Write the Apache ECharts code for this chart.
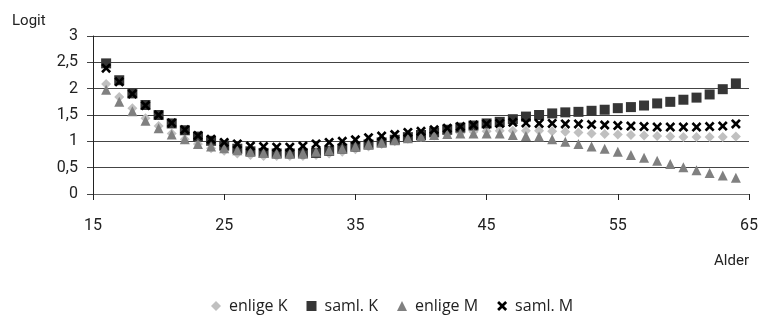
<!DOCTYPE html>
<html>
<head>
<meta charset="utf-8">
<script src="https://cdn.jsdelivr.net/npm/echarts@6/dist/echarts.min.js"></script>
<style>
html,body{margin:0;padding:0;background:#fff;}
#c{width:761px;height:320px;}
</style>
</head>
<body>
<div id="c"></div>
<script>
var ages = [16,17,18,19,20,21,22,23,24,25,26,27,28,29,30,31,32,33,34,35,36,37,38,39,40,41,42,43,44,45,46,47,48,49,50,51,52,53,54,55,56,57,58,59,60,61,62,63,64];
var enligeK = [2.09,1.84,1.63,1.44,1.29,1.15,1.04,0.95,0.87,0.82,0.77,0.74,0.72,0.72,0.72,0.72,0.74,0.77,0.80,0.85,0.90,0.95,1.00,1.05,1.08,1.11,1.14,1.16,1.18,1.19,1.20,1.20,1.20,1.20,1.19,1.18,1.17,1.15,1.14,1.13,1.12,1.11,1.10,1.09,1.08,1.08,1.08,1.08,1.09];
var samlK = [2.48,2.16,1.91,1.69,1.50,1.34,1.21,1.09,1.01,0.92,0.86,0.81,0.78,0.77,0.77,0.77,0.78,0.82,0.86,0.90,0.94,0.98,1.03,1.08,1.12,1.17,1.22,1.26,1.30,1.34,1.37,1.42,1.47,1.50,1.53,1.55,1.56,1.58,1.60,1.63,1.65,1.68,1.72,1.75,1.79,1.83,1.89,1.99,2.10];
var enligeM = [1.98,1.75,1.57,1.39,1.25,1.13,1.04,0.95,0.90,0.87,0.83,0.80,0.78,0.77,0.77,0.78,0.80,0.83,0.86,0.90,0.94,0.98,1.02,1.06,1.09,1.12,1.14,1.15,1.15,1.15,1.15,1.12,1.10,1.09,1.04,0.99,0.95,0.90,0.86,0.80,0.74,0.69,0.63,0.57,0.51,0.45,0.40,0.35,0.31];
var samlM = [2.39,2.13,1.90,1.68,1.50,1.35,1.22,1.11,1.04,0.98,0.95,0.91,0.90,0.89,0.89,0.91,0.95,0.98,1.00,1.03,1.07,1.10,1.13,1.17,1.19,1.22,1.25,1.28,1.31,1.33,1.34,1.36,1.35,1.34,1.34,1.33,1.33,1.32,1.31,1.30,1.29,1.28,1.27,1.27,1.27,1.27,1.28,1.29,1.33];
var seriesNames = ['enlige K','saml. K','enlige M','saml. M'];
var xTicks = [15,25,35,45,55,65];
var yTicks = [0,0.5,1,1.5,2,2.5,3];

var crossPath = 'path://M0,1.9 L1.9,0 L5,3.1 L8.1,0 L10,1.9 L6.9,5 L10,8.1 L8.1,10 L5,6.9 L1.9,10 L0,8.1 L3.1,5 Z';
function pairs(arr){ return ages.map(function(a,i){ return [a, arr[i]]; }); }

var chart = echarts.init(document.getElementById('c'), null, {renderer:'canvas'});
var font = 'Roboto, "Noto Sans", sans-serif';
chart.setOption({
  animation:false,
  backgroundColor:'#fff',
  grid:{left:93, right:12, top:36, bottom:126, containLabel:false},
  title:{text:'Logit', left:7, top:9, textStyle:{fontFamily:font, fontSize:15, fontWeight:'normal', color:'#222'}},
  legend:{
    bottom:1, left:206, itemWidth:10, itemHeight:10, itemGap:19,
    textStyle:{fontFamily:'"Open Sans", sans-serif', fontSize:16, color:'#222', padding:[0,0,0,3]},
    data:[
      {name:seriesNames[0], icon:'diamond'},
      {name:seriesNames[1], icon:'rect'},
      {name:seriesNames[2], icon:'triangle'},
      {name:seriesNames[3], icon:crossPath}
    ]
  },
  xAxis:{
    type:'value', min:15, max:65, interval:10,
    name:'Alder', nameLocation:'end', nameGap:0,
    nameTextStyle:{fontFamily:font, fontSize:15, color:'#222', align:'right', verticalAlign:'top', padding:[60,0,0,0]},
    axisLine:{show:true, onZero:false, lineStyle:{color:'#666', width:1}},
    axisTick:{show:true, inside:false, length:6, lineStyle:{color:'#222'}},
    axisLabel:{fontFamily:font, fontSize:16, color:'#222', margin:24},
    splitLine:{show:false}
  },
  yAxis:{
    type:'value', min:0, max:3, interval:0.5,
    axisLine:{show:true, lineStyle:{color:'#222', width:1}},
    axisTick:{show:true, inside:false, length:6, lineStyle:{color:'#444'}},
    axisLabel:{fontFamily:font, fontSize:16, color:'#222', margin:15,
      formatter:function(v){ return String(v).replace('.', ','); }},
    splitLine:{show:true, lineStyle:{color:'#444', width:1}}
  },
  series:[
    {name:seriesNames[0], type:'scatter', symbol:'diamond', symbolSize:10, itemStyle:{color:'#c0c0c0', opacity:1}, data:pairs(enligeK)},
    {name:seriesNames[1], type:'scatter', symbol:'rect', symbolSize:10, itemStyle:{color:'#363636', opacity:1}, data:pairs(samlK)},
    {name:seriesNames[2], type:'scatter', symbol:'triangle', symbolSize:10, itemStyle:{color:'#808080', opacity:1}, data:pairs(enligeM)},
    {name:seriesNames[3], type:'scatter', symbol:crossPath, symbolSize:10, itemStyle:{color:'#000', opacity:1}, data:pairs(samlM)}
  ]
});
</script>
</body>
</html>
